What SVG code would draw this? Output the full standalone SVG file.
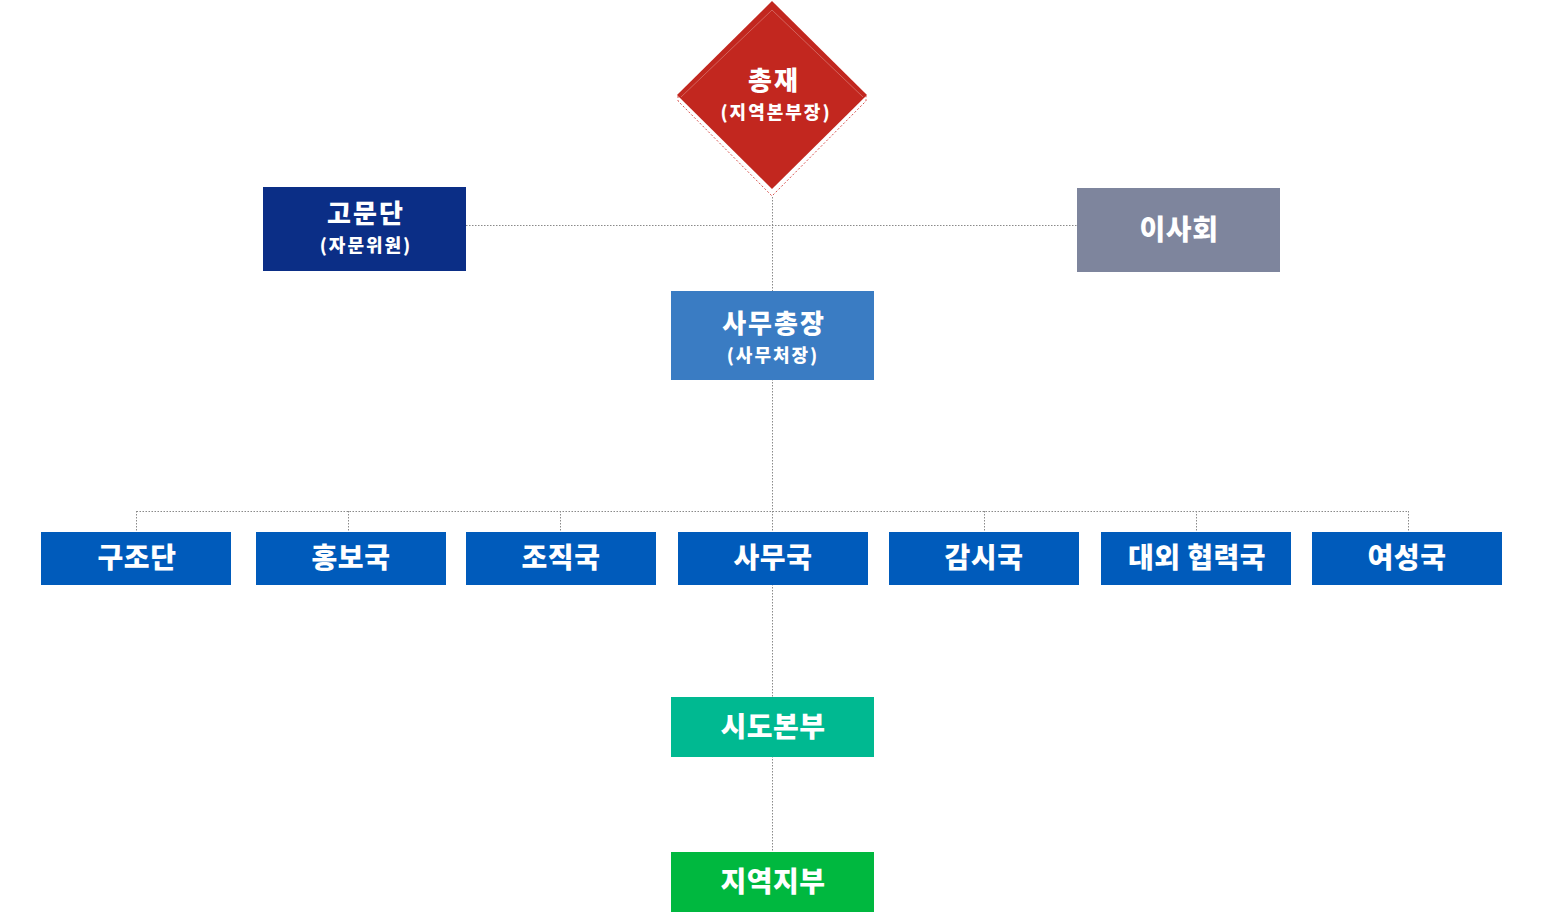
<svg xmlns="http://www.w3.org/2000/svg" width="1545" height="912" viewBox="0 0 1545 912">
<style>
.t{font-family:"Noto Sans CJK KR","Noto Sans",sans-serif;font-weight:900;fill:#fff;text-anchor:middle}
.m{font-size:28px;letter-spacing:0.5px}
.h{font-size:26px;letter-spacing:2px}
.s{font-size:18px;letter-spacing:2px}
.c{stroke:#8a8a8a;stroke-width:1;stroke-dasharray:1.5 1.5;fill:none}
</style>
<rect width="1545" height="912" fill="#fff"/>
<g id="connectors">
<path class="c" d="M772.5 197V291M466 225.5H1077M772.5 379V532M136.5 511.5H1408.5M136.5 511V532M348.5 511V532M560.5 511V532M984.5 511V532M1196.5 511V532M1408.5 511V532M772.5 584V697M772.5 756V852"/>
</g>
<g id="chairman">
<polyline points="678,96 678,101 772,196 866,101 866,96" fill="none" stroke="#d9534f" stroke-width="1" stroke-dasharray="2 2"/>
<polygon points="772,1 677,95 772,189 867,95" fill="#c2271f"/>
<polyline points="681,97 772,10 863,97" fill="none" stroke="#d7716b" stroke-width="0.8"/>
<text class="t h" x="774" y="90">총재</text>
<text class="t s" x="776" y="119">(지역본부장)</text>
</g>
<g id="advisors">
<rect x="263" y="187" width="203" height="84" fill="#0b2e86"/>
<text class="t h" x="366" y="223">고문단</text>
<text class="t s" x="366" y="252">(자문위원)</text>
</g>
<g id="board">
<rect x="1077" y="188" width="203" height="84" fill="#7e859d"/>
<text class="t m" x="1179" y="240">이사회</text>
</g>
<g id="secgen">
<rect x="671" y="291" width="203" height="89" fill="#3a7cc3"/>
<text class="t h" x="774" y="333">사무총장</text>
<text class="t s" x="773" y="362">(사무처장)</text>
</g>
<g id="d1"><rect x="41" y="532" width="190" height="53" fill="#005bbb"/><text class="t m" x="137" y="568">구조단</text></g>
<g id="d2"><rect x="256" y="532" width="190" height="53" fill="#005bbb"/><text class="t m" x="351" y="568">홍보국</text></g>
<g id="d3"><rect x="466" y="532" width="190" height="53" fill="#005bbb"/><text class="t m" x="561" y="568">조직국</text></g>
<g id="d4"><rect x="678" y="532" width="190" height="53" fill="#005bbb"/><text class="t m" x="773" y="568">사무국</text></g>
<g id="d5"><rect x="889" y="532" width="190" height="53" fill="#005bbb"/><text class="t m" x="984" y="568">감시국</text></g>
<g id="d6"><rect x="1101" y="532" width="190" height="53" fill="#005bbb"/><text class="t m" x="1197" y="568">대외 협력국</text></g>
<g id="d7"><rect x="1312" y="532" width="190" height="53" fill="#005bbb"/><text class="t m" x="1407" y="568">여성국</text></g>
<g id="province">
<rect x="671" y="697" width="203" height="60" fill="#00b991"/>
<text class="t m" x="773" y="737">시도본부</text>
</g>
<g id="local">
<rect x="671" y="852" width="203" height="60" fill="#00b83f"/>
<text class="t m" x="773" y="892">지역지부</text>
</g>
</svg>
